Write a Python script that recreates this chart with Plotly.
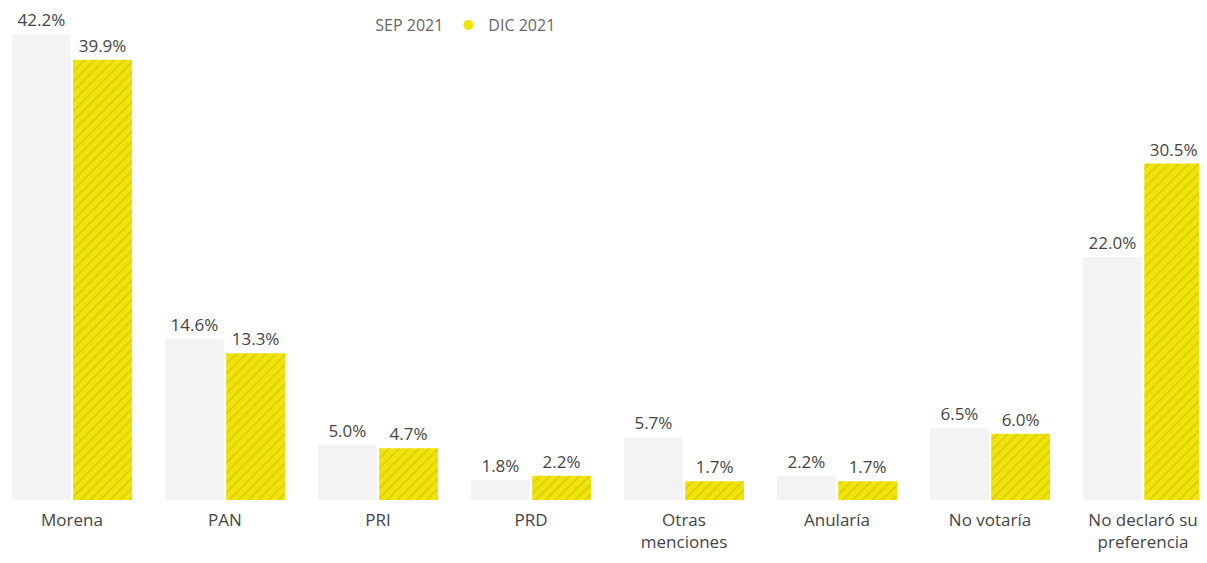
import plotly.graph_objects as go

categories = ["Morena", "PAN", "PRI", "PRD", "Otras<br>menciones", "Anularía", "No votaría", "No declaró su<br>preferencia"]
sep_2021 = [42.2, 14.6, 5.0, 1.8, 5.7, 2.2, 6.5, 22.0]
dic_2021 = [39.9, 13.3, 4.7, 2.2, 1.7, 1.7, 6.0, 30.5]
series_names = ["SEP 2021", "DIC 2021"]

SEP_COLOR = "#f3f3f3"
DIC_COLOR = "#f0e40a"
TEXT_COLOR = "#454545"
FONT = "Open Sans"

fig = go.Figure()
fig.add_trace(go.Bar(
    x=categories, y=sep_2021, name=series_names[0],
    marker=dict(color=SEP_COLOR, line=dict(width=0)),
    texttemplate="%{y:.1f}%", textposition="outside", constraintext="none",
    textfont=dict(size=17, color=TEXT_COLOR, family=FONT),
    cliponaxis=False, showlegend=False,
))
fig.add_trace(go.Bar(
    x=categories, y=dic_2021, name=series_names[1],
    marker=dict(color=DIC_COLOR, line=dict(width=0),
                pattern=dict(shape="/", fgcolor="#b3a200", fgopacity=0.35, size=7, solidity=0.25)),
    texttemplate="%{y:.1f}%", textposition="outside", constraintext="none",
    textfont=dict(size=17, color=TEXT_COLOR, family=FONT),
    cliponaxis=False, showlegend=False,
))
# legend entries with round markers
fig.add_trace(go.Scatter(x=[None], y=[None], mode="markers", name=series_names[0],
                         marker=dict(color="#ffffff", size=10, symbol="circle")))
fig.add_trace(go.Scatter(x=[None], y=[None], mode="markers", name=series_names[1],
                         marker=dict(color=DIC_COLOR, size=10, symbol="circle")))

fig.update_layout(
    width=1199, height=555,
    margin=dict(l=0, r=0, t=0, b=63),
    paper_bgcolor="white", plot_bgcolor="white",
    barmode="group", bargap=0.2, bargroupgap=0.04,
    font=dict(family=FONT, color=TEXT_COLOR),
    legend=dict(orientation="h", x=0.273, y=1.0, xanchor="left", yanchor="top",
                font=dict(size=16, color="#666666", family=FONT),
                itemwidth=30, tracegroupgap=0, bgcolor="rgba(0,0,0,0)"),
    xaxis=dict(range=[-0.418, 7.418], showgrid=False, zeroline=False, showline=False,
               ticks="", ticklabelstandoff=8,
               tickfont=dict(size=17, color=TEXT_COLOR, family=FONT)),
    yaxis=dict(range=[0, 44.6], visible=False, showgrid=False, zeroline=False),
)
fig.write_html("out.html")
